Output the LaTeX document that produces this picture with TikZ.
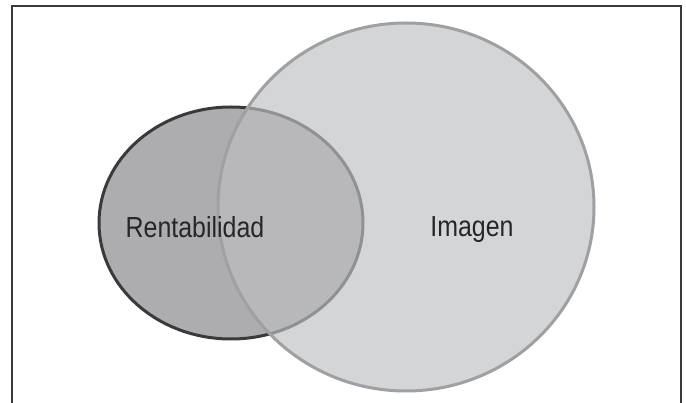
\documentclass[tikz,border=0pt]{standalone}
\usepackage{fontspec}
\setmainfont{Liberation Sans}[FakeStretch=0.86]
\usepackage{tikz}
\usetikzlibrary{positioning, fit, calc}

\definecolor{frameline}{RGB}{58,58,60}
\definecolor{rentfill}{RGB}{173,173,176}
\definecolor{rentline}{RGB}{58,58,60}
\definecolor{imgfill}{RGB}{190,191,194}
\definecolor{imgline}{RGB}{160,160,164}

\begin{document}
\begin{tikzpicture}[x = 1pt, y = -1pt,
  label/.style = {font = \fontsize{29}{32}\selectfont, text = black!85, anchor = base, inner sep = 0pt}]
\useasboundingbox (0,0) rectangle (686,403);
\clip (0,0) rectangle (686,403);

\draw[frameline, line width = 2] (12,6) rectangle (681,420);

% Rentabilidad
\draw[rentline, fill = rentfill, line width = 3] (231,223) ellipse [x radius = 132, y radius = 116];
% Imagen
\fill[imgfill, fill opacity = 0.66] (406,207) ellipse [x radius = 188, y radius = 184];
\draw[imgline, line width = 3] (406,207) ellipse [x radius = 188, y radius = 184];

\node[label] (R) at (195,238) {Rentabilidad};
\node[label] (I) at (472,237) {Imagen};
\end{tikzpicture}
\end{document}
